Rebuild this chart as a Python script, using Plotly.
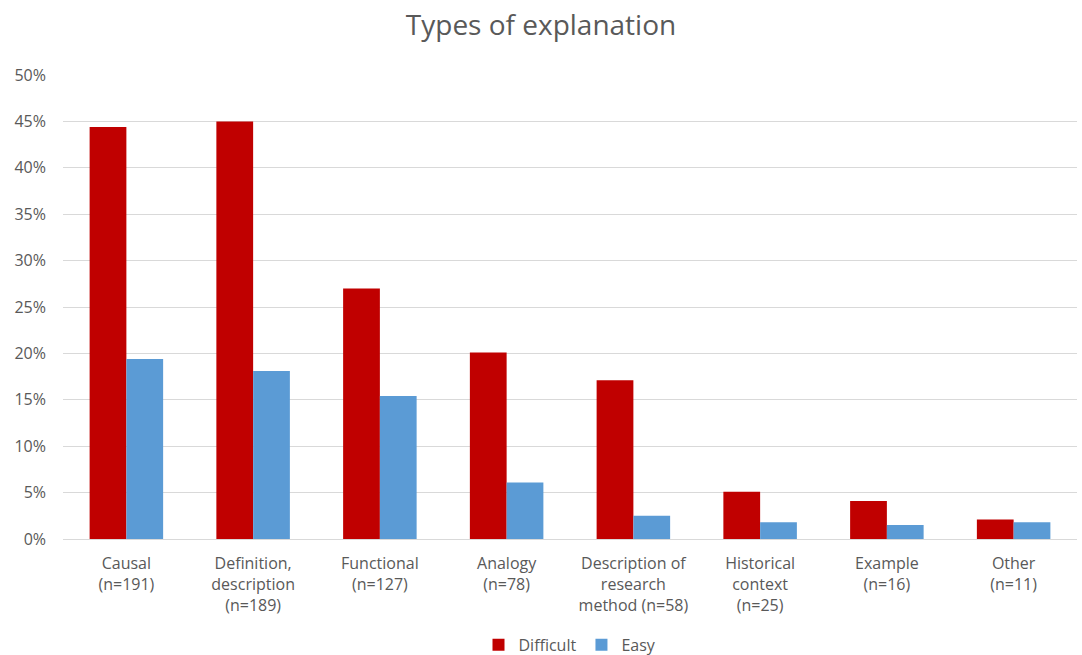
import plotly.graph_objects as go

categories = [
    "Causal<br>(n=191)",
    "Definition,<br>description<br>(n=189)",
    "Functional<br>(n=127)",
    "Analogy<br>(n=78)",
    "Description of<br>research<br>method (n=58)",
    "Historical<br>context<br>(n=25)",
    "Example<br>(n=16)",
    "Other<br>(n=11)",
]
difficult = [0.444, 0.450, 0.270, 0.201, 0.171, 0.051, 0.041, 0.021]
easy = [0.194, 0.181, 0.154, 0.061, 0.025, 0.018, 0.015, 0.018]
y_ticks = [0, 0.05, 0.10, 0.15, 0.20, 0.25, 0.30, 0.35, 0.40, 0.45, 0.50]

FONT = "Open Sans, Noto Sans, sans-serif"
TEXT = "#595959"

fig = go.Figure()
fig.add_trace(go.Bar(name="Difficult", x=categories, y=difficult, marker_color="#C00000",
                     marker_line_width=0))
fig.add_trace(go.Bar(name="Easy", x=categories, y=easy, marker_color="#5B9BD5",
                     marker_line_width=0))

fig.update_layout(
    width=1082, height=655,
    margin=dict(l=63, r=5, t=75, b=116, autoexpand=False),
    paper_bgcolor="white", plot_bgcolor="white",
    barmode="group", bargap=0.42, bargroupgap=0,
    title=dict(text="Types of explanation", x=0.5, xanchor="center", y=0.962, yanchor="middle",
               font=dict(family=FONT, size=28, color=TEXT)),
    font=dict(family=FONT, color=TEXT),
    showlegend=True,
    legend=dict(orientation="h", x=0.5, xanchor="center", y=-0.228, yanchor="middle",
                font=dict(family=FONT, size=16, color=TEXT), itemwidth=30, traceorder="normal"),
    xaxis=dict(showgrid=False, showline=True, linecolor="#d9d9d9", linewidth=1,
               tickfont=dict(family=FONT, size=16, color=TEXT), ticks="",
               ticklabelstandoff=10, automargin=False),
    yaxis=dict(range=[0, 0.5], tickvals=y_ticks, tickformat=".0%", showgrid=True,
               gridcolor="#d9d9d9", gridwidth=1, zeroline=False, showline=False,
               tickfont=dict(family=FONT, size=16, color=TEXT), ticks="", ticklen=0,
               ticklabelstandoff=16, automargin=False),
)

fig.write_html("out.html")
